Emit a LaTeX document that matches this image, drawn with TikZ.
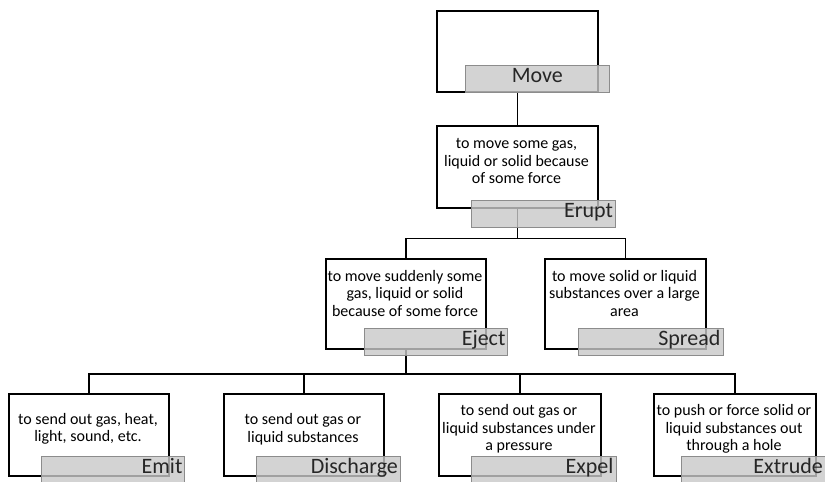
\documentclass[tikz,border=0pt]{standalone}
\usepackage{fontspec}
\setmainfont{Carlito}
\begin{document}
\begin{tikzpicture}[x=1pt,y=-1pt,
  wbox/.style={draw=black, line width=1.8pt, fill=white, inner sep=0pt, anchor=north west},
  gbox/.style={draw=black!45, line width=0.8pt, fill=black!21, fill opacity=0.8, text opacity=1,
     minimum width=144pt, minimum height=27pt, inner sep=0pt, anchor=north west,
     text height=15pt, text depth=7pt,
     font=\fontsize{22}{22}\selectfont, text=black!85},
  desc/.style={align=center, inner sep=0pt, font=\fontsize{16}{17.5}\selectfont},
  conn/.style={draw=black, line width=1.3pt}
]
\clip (0,0) rectangle (825,482);
\fill[white] (0,0) rectangle (825,482);
% boxes
\node[wbox, minimum width=161pt, minimum height=81pt] (movew) at (436,10) {};
\node[wbox, minimum width=161pt, minimum height=82pt] (eruptw) at (436,125) {};
\node[wbox, minimum width=160pt, minimum height=90pt] (ejectw) at (325,258) {};
\node[wbox, minimum width=161pt, minimum height=90pt] (spreadw) at (544,258) {};
\node[wbox, minimum width=160pt, minimum height=82pt] (emitw) at (8,393) {};
\node[wbox, minimum width=160pt, minimum height=82pt] (dischargew) at (223,393) {};
\node[wbox, minimum width=162pt, minimum height=82pt] (expelw) at (438,393) {};
\node[wbox, minimum width=162pt, minimum height=82pt] (extrudew) at (653,393) {};
% connectors
\coordinate (bus1) at (eruptw.south |- 0,238.5);
\coordinate (bus2) at (ejectw.south |- 0,374);
\draw[conn] (movew.south) -- (eruptw.north);
\draw[conn] (eruptw.south) -- (bus1);
\draw[conn] (bus1) -| (ejectw.north);
\draw[conn] (bus1) -| (spreadw.north);
\draw[conn] (ejectw.south) -- (bus2);
\draw[conn] (bus2) -| (emitw.north);
\draw[conn] (bus2) -| (dischargew.north);
\draw[conn] (bus2) -| (expelw.north);
\draw[conn] (bus2) -| (extrudew.north);
% descriptions
\node[desc] (eruptt) at (516.5,161) {to move some gas,\\liquid or solid because\\of some force};
\node[desc] (ejectt) at (405,293) {to move suddenly some\\gas, liquid or solid\\because of some force};
\node[desc] (spreadt) at (624.5,293) {to move solid or liquid\\substances over a large\\area};
\node[desc] (emitt) at (88,429) {to send out gas, heat,\\light, sound, etc.};
\node[desc] (discharget) at (303,429) {to send out gas or\\liquid substances};
\node[desc] (expelt) at (519,429) {to send out gas or\\liquid substances under\\a pressure};
\node[desc] (extrudet) at (734,429) {to push or force solid or\\liquid substances out\\through a hole};
% labels
\node[gbox] (moveg) at (465,65) {Move};
\node[gbox, align=right, text width=139pt] (eruptg) at (471,200) {Erupt};
\node[gbox, align=right, text width=139pt, minimum width=143pt] (ejectg) at (364,328) {Eject};
\node[gbox, align=right, text width=139pt, minimum width=145pt] (spreadg) at (578,328) {Spread};
\node[gbox, align=right, text width=139pt, minimum width=143pt] (emitg) at (41,456) {Emit};
\node[gbox, align=right, text width=139pt] (dischargeg) at (256,456) {Discharge};
\node[gbox, align=right, text width=139pt, minimum width=145pt] (expelg) at (471,456) {Expel};
\node[gbox, align=right, text width=139pt] (extrudeg) at (681,456) {Extrude};
\end{tikzpicture}
\end{document}
